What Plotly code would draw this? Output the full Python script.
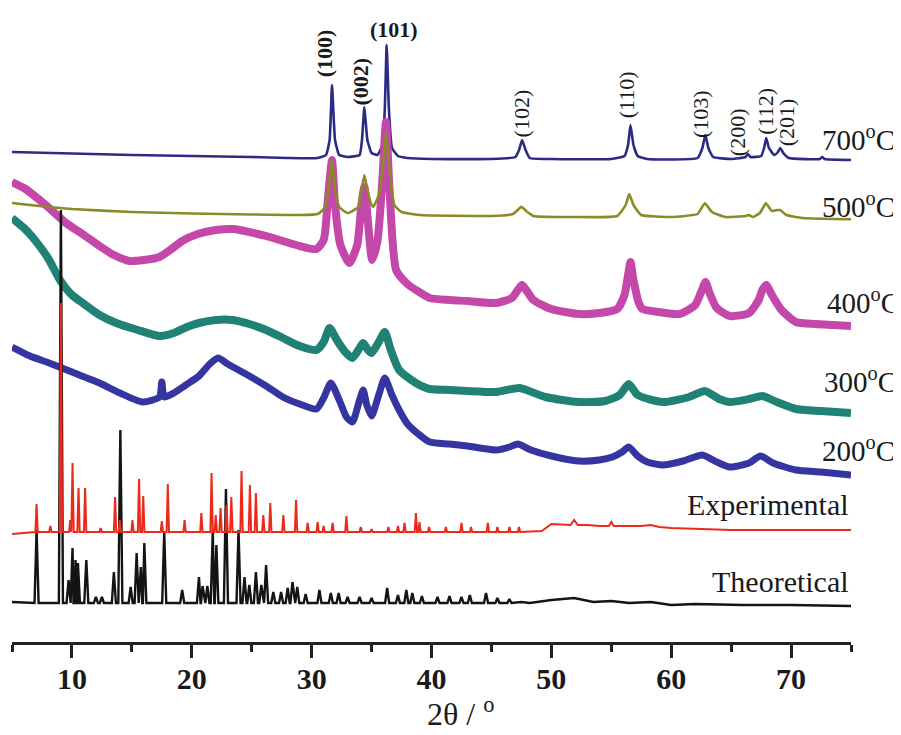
import plotly.graph_objects as go

# ---------------- data (2θ in degrees, intensity in a.u., curves stacked) ----------------
x700 = [5.0, 10, 15, 20, 25, 28, 30.5, 31.2, 31.5, 31.7, 31.95, 32.3, 33.0, 34.0, 34.2, 34.4, 34.65, 35.0, 35.5, 35.9,
        36.1, 36.26, 36.45, 36.7, 37.2, 38, 40, 45, 47.0, 47.3, 47.56, 47.85, 48.2, 50, 55, 56.1, 56.4, 56.6, 56.85,
        57.2, 58, 62.2, 62.6, 62.85, 63.1, 63.5, 65, 66.2, 66.4, 66.6, 67.5, 67.75, 67.93, 68.15, 68.6, 68.9, 69.1,
        69.35, 69.8, 72.4, 72.6, 72.8, 75]
y700 = [490, 488.5, 487, 486, 485, 484, 484, 487, 502, 557, 502, 487, 485, 487, 502, 535, 502, 489, 487, 497,
        532, 597, 532, 494, 486, 484, 483, 483, 485, 492, 502, 492, 484, 483, 483, 486, 497, 517, 497,
        486, 483, 484, 494, 507, 494, 485, 483, 485, 488, 485, 486, 494, 504, 494, 487, 490, 494,
        489, 484, 483, 485, 483, 482]

x500 = [5, 8, 10, 15, 20, 25, 29, 30.5, 31.1, 31.4, 31.7, 31.95, 32.3, 33.0, 33.9, 34.15, 34.4, 34.65, 35.0, 35.15,
        35.6, 35.95, 36.2, 36.45, 36.9, 37.5, 39, 45, 46.8, 47.2, 47.5, 47.9, 48.5, 52, 55.5, 56.2, 56.5, 56.85, 57.5,
        60, 62.2, 62.8, 63.4, 64.5, 66.2, 66.5, 66.8, 67.4, 67.9, 68.4, 68.9, 69.1, 69.6, 71, 75]
y500 = [439, 435, 433, 430, 428.5, 427.5, 427, 428, 434, 452, 482, 452, 435, 429, 435, 452, 467, 452, 437, 435.3,
        447, 477, 509, 477, 437, 430, 427, 426, 428, 432, 435.3, 431, 426, 425, 426, 437, 448, 437, 427,
        425, 428, 438.7, 430, 425, 426, 427, 425, 429, 438.7, 431, 432, 432, 427, 424, 422.7]

x400 = [5.0, 6.0, 7.0, 8.0, 9.5, 11, 12.3, 13.5, 14.8, 16, 17.3, 18.2, 19.2, 20.5, 22, 23.5, 24.8, 26.2, 27.6, 29,
        30.4, 31.0, 31.35, 31.7, 31.95, 32.4, 33.15, 33.8, 34.15, 34.4, 34.65, 35.05, 35.5, 35.9, 36.2, 36.5, 37.05,
        37.9, 38.7, 39.85, 41.5, 43, 45.4, 46.7, 47.2, 47.56, 47.9, 48.5, 50, 52.3, 54, 55.5, 56.1, 56.4, 56.6,
        56.85, 57.3, 57.6, 59, 60.7, 62.0, 62.5, 62.86, 63.2, 63.8, 64.9, 66.5, 67.3, 67.6, 67.93, 68.4, 69.2,
        70.4, 72, 73.5, 75]
y400 = [460, 454, 445, 435, 419, 407, 396, 387, 381, 382, 385, 392, 401, 408, 412, 413, 410, 406, 401, 396,
        393, 402, 442, 482, 437, 397, 379, 397, 437, 455, 427, 382, 402, 462, 520, 452, 372,
        359, 352, 344, 342, 341, 339, 344, 352, 357, 352, 342, 333, 328, 329, 333, 347, 367, 380,
        362, 339, 333, 330, 328, 337, 350, 360, 349, 334, 326, 329, 342, 352, 357, 347, 332,
        320, 318, 317, 316]

x300 = [5.0, 6.0, 6.7, 8.0, 9.0, 10.0, 10.9, 12.3, 13.7, 15.5, 17.3, 18.5, 19.6, 20.6, 22.0, 23.4, 24.8, 26.2, 27.6,
        29, 30.4, 31.0, 31.5, 32.1, 32.8, 33.4, 34.0, 34.3, 34.7, 35.0, 35.6, 36.1, 36.6, 37.3, 38.7, 39.85, 41.5, 43,
        45.4, 47.35, 49.5, 52.3, 54.5, 55.7, 56.45, 57.2, 59.3, 61.5, 62.8, 64, 64.9, 66.5, 67.6, 68.8, 70.4, 72.5, 75]
y300 = [424, 414, 405, 384, 362, 347, 339, 327, 319, 312, 306, 309, 315, 319, 322, 322, 318, 312, 304,
        296, 292, 300, 314, 302, 290, 284, 294, 299, 292, 289, 300, 310, 292, 272, 259, 253, 252, 251,
        250, 254, 245, 240, 241, 247, 258, 247, 240, 245, 251, 243, 240, 243, 246, 240, 233, 231, 229]

x200 = [5.0, 6.5, 8.1, 10.0, 12.3, 14.0, 15.9, 17.3, 17.5, 17.7, 18.5, 19.5, 20.6, 21.5, 22.2, 23.0, 24.8, 26.2, 27.6,
        29.0, 30.4, 31.0, 31.6, 32.3, 32.9, 33.4, 34.0, 34.3, 34.6, 35.0, 35.6, 36.1, 36.7, 37.3, 38.0, 38.7, 39.85,
        41.5, 43, 45.4, 46.5, 47.2, 48.3, 50, 52.3, 54, 55.1, 55.9, 56.45, 57.2, 58, 59.3, 61, 62.6, 63.8, 64.9,
        66.5, 67.45, 68.5, 70.4, 72.5, 75]
y200 = [295, 286, 279, 270, 259, 249, 240, 245, 260, 245, 249, 257, 266, 278, 284, 278, 266, 256, 245,
        238, 233, 244, 259, 242, 225, 220, 242, 252, 237, 226, 247, 264, 247, 232, 218, 210, 200,
        198, 196, 192, 195, 198, 192, 186, 181, 182, 185, 190, 195, 186, 180, 177, 181, 187, 180, 175,
        179, 186, 179, 172, 170, 167]

# Experimental pattern: reflections (position, intensity) plus background points
exp_pos = [7.05, 8.2, 9.08, 9.86, 10.05, 10.55, 11.1, 12.4, 13.6, 14.0, 15.05, 15.6, 15.95, 17.5, 18.0, 19.4, 20.8,
           21.65, 22.0, 22.4, 22.9, 23.3, 24.15, 24.85, 25.35, 25.97, 26.55, 27.64, 28.7, 29.67, 30.5, 31.0, 31.75,
           32.9, 34.1, 35.0, 36.4, 37.2, 37.75, 38.7, 39.0, 39.8, 41.2, 42.5, 43.3, 44.7, 45.5, 46.5, 47.3]
exp_int = [138, 116, 339, 122, 179, 154, 154, 114, 145, 122, 122, 163, 146, 121, 158, 122, 129,
           169, 127, 134, 137, 145, 171, 157, 149, 127, 139, 127, 142, 119, 120, 116, 119,
           126, 115, 113, 115, 116, 119, 129, 120, 115, 115, 119, 115, 119, 115, 115, 115]
exp_bg_x = [5, 49.2, 50.0, 51.0, 51.6, 51.9, 52.2, 53.0, 54.0, 54.8, 55.0, 55.2, 56.0, 57.5, 58.3, 59.0, 60, 65, 70, 75]
exp_bg_y = [108, 111, 118, 117, 117, 122, 117, 117, 116, 116, 120, 116, 116, 116, 117, 115, 114, 112, 112, 112]

# Theoretical (simulated) pattern
th_pos = [7.05, 9.08, 9.72, 10.05, 10.3, 10.5, 11.2, 12.0, 12.5, 13.5, 14.04, 14.9, 15.4, 15.75, 16.04, 17.7, 19.2,
          20.6, 20.9, 21.3, 21.75, 22.05, 22.85, 23.9, 24.4, 24.8, 25.35, 25.8, 26.2, 26.8, 27.45, 28.0, 28.4, 28.8,
          29.5, 30.65, 31.6, 32.25, 33.0, 34.0, 35.0, 36.3, 37.2, 37.9, 38.4, 39.2, 40.5, 41.5, 42.5, 43.2, 44.55,
          45.5, 46.5]
th_int = [112, 432, 62, 94, 82, 79, 82, 45, 45, 70, 212, 55, 89, 75, 99, 110, 52,
          65, 56, 56, 112, 97, 153, 112, 65, 57, 70, 57, 77, 50, 50, 54, 60, 55,
          48, 52, 49, 49, 45, 45, 44, 54, 47, 52, 49, 46, 45, 46, 45, 47, 49,
          44, 43]
th_bg_x = [5, 47.5, 48.2, 50.0, 51.9, 53.5, 55.0, 56.5, 58.3, 60, 62, 66, 70, 75]
th_bg_y = [40, 40, 39, 42, 44, 40, 41, 39, 40, 37, 38, 37, 37, 36]

hkl_labels = ["(100)", "(002)", "(101)", "(102)", "(110)", "(103)", "(200)", "(112)", "(201)"]
hkl_x = [31.06, 34.0, 36.9, 47.5, 56.25, 62.4, 65.5, 67.8, 69.6]
hkl_y = [589, 560, 613, 529, 547, 528, 510, 531, 520]

x_ticks = [10, 20, 30, 40, 50, 60, 70]


def stick_pattern(pos, inten, bg_x, bg_y, foot, hw):
    pts = list(zip(bg_x, bg_y))
    for p, v in zip(pos, inten):
        pts += [(p - hw, foot), (p, v), (p + hw, foot)]
    pts.sort(key=lambda t: t[0])
    return [t[0] for t in pts], [t[1] for t in pts]


fig = go.Figure()

NAVY = "#2d2a84"
OLIVE = "#8a8a26"
MAGENTA = "#c447aa"
TEAL = "#1f8274"
BLUE = "#3535a2"
RED = "#ec2a1c"
BLACK = "#141414"

fig.add_trace(go.Scatter(x=x700, y=y700, mode="lines", line=dict(color=NAVY, width=2.6, shape="spline", smoothing=0.4)))
fig.add_trace(go.Scatter(x=x400, y=y400, mode="lines", line=dict(color=MAGENTA, width=8, shape="spline", smoothing=0.6)))
fig.add_trace(go.Scatter(x=x500, y=y500, mode="lines", line=dict(color=OLIVE, width=2.6, shape="spline", smoothing=0.4)))
fig.add_trace(go.Scatter(x=x300, y=y300, mode="lines", line=dict(color=TEAL, width=8, shape="spline", smoothing=0.6)))
fig.add_trace(go.Scatter(x=x200, y=y200, mode="lines", line=dict(color=BLUE, width=7, shape="spline", smoothing=0.6)))

tx, ty = stick_pattern(th_pos, th_int, th_bg_x, th_bg_y, 39, 0.17)
fig.add_trace(go.Scatter(x=tx, y=ty, mode="lines", line=dict(color=BLACK, width=2.4)))
ex, ey = stick_pattern(exp_pos, exp_int, exp_bg_x, exp_bg_y, 110, 0.1)
fig.add_trace(go.Scatter(x=ex, y=ey, mode="lines", line=dict(color=RED, width=2.0)))

annotations = []
for lab, hx, hy in zip(hkl_labels, hkl_x, hkl_y):
    bold = lab in ("(100)", "(002)", "(101)")
    annotations.append(dict(
        x=hx, y=hy, xref="x", yref="y", text=f"<b>{lab}</b>" if bold else lab, showarrow=False,
        textangle=0 if lab == "(101)" else -90,
        font=dict(family="Liberation Serif", size=22, color="#1a1a1a"),
        xanchor="center", yanchor="middle"))

temp_labels = [("700<sup>o</sup>C", 72.38, 504), ("500<sup>o</sup>C", 72.38, 437.5),
               ("400<sup>o</sup>C", 72.8, 341), ("300<sup>o</sup>C", 72.55, 262),
               ("200<sup>o</sup>C", 72.38, 193)]
for t, tx_, ty_ in temp_labels:
    annotations.append(dict(x=tx_, y=ty_, xref="x", yref="y", text=t, showarrow=False,
                            xanchor="left", yanchor="middle",
                            font=dict(family="Liberation Serif", size=29, color="#1a1a1a")))
for t, ty_ in [("Experimental", 138), ("Theoretical", 61)]:
    annotations.append(dict(x=75, y=ty_, xref="x", yref="y", text=t, showarrow=False,
                            xanchor="right", yanchor="middle",
                            font=dict(family="Liberation Serif", size=30, color="#1a1a1a")))

annotations.append(dict(x=0.534, y=-0.145, xref="paper", yref="paper", text="2θ / <sup>o</sup>",
                        showarrow=False, xanchor="center", yanchor="bottom",
                        font=dict(family="Liberation Serif", size=32, color="#1a1a1a")))

# the page adds an 8 px body margin, so the figure is 8 px smaller than the window
fig.update_layout(
    width=893, height=727,
    margin=dict(l=4, r=50, t=0, b=93),
    paper_bgcolor="white", plot_bgcolor="white",
    showlegend=False,
    annotations=annotations,
    xaxis=dict(range=[5, 75], showgrid=False, zeroline=False, showline=True, linecolor="#222",
               linewidth=2.5, ticks="outside", ticklen=13, tickwidth=2.5, tickcolor="#222",
               tickvals=x_ticks, ticklabelstandoff=-5,
               tickfont=dict(family="Liberation Serif", size=30, color="#1a1a1a", weight="bold"),
               minor=dict(dtick=5, tick0=5, ticklen=7, tickwidth=2.5, tickcolor="#222", ticks="outside",
                          showgrid=False)),
    yaxis=dict(range=[0, 634], visible=False, showgrid=False, zeroline=False),
)

fig.write_html("out.html")
